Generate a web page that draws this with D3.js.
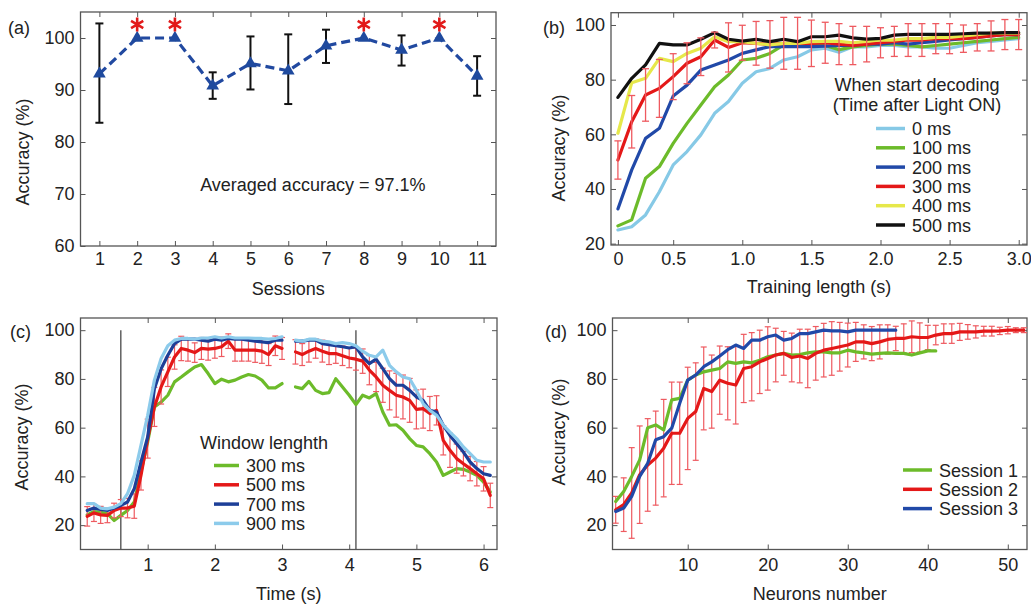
<!DOCTYPE html>
<html>
<head>
<meta charset="utf-8">
<script src="https://cdn.jsdelivr.net/npm/d3@7"></script>
<style>
  body { margin: 0; background: #fff; }
  svg { display: block; font-family: "Liberation Sans", Arial, sans-serif; }
  .tick line { stroke: #555; }
  .tick text { fill: #222; font-size: 18px; }
  .lbl { fill: #222; font-size: 18px; }
</style>
</head>
<body>
<svg id="fig" width="1031" height="604"></svg>
<script>
// (a) accuracy per session
const sessions = [1, 2, 3, 4, 5, 6, 7, 8, 9, 10, 11];
const accA = [93.1, 100, 100, 90.8, 95.1, 93.7, 98.5, 100, 97.7, 100, 92.7];
const upperA = [102.8, 100, 100, 93.4, 100.3, 100.7, 101.6, 100, 100.5, 100, 96.5];
const lowerA = [83.7, 100, 100, 88.3, 90.1, 87.3, 95.2, 100, 94.7, 100, 88.9];
const starSessions = [2, 3, 8, 10];
const starLevel = 102.6;

// (b) accuracy vs training length, one series per decoding start
const trainLen = [0.1, 0.2, 0.3, 0.4, 0.5, 0.6, 0.7, 0.8, 0.9, 1.0, 1.1, 1.2, 1.3, 1.4, 1.5,
  1.6, 1.7, 1.8, 1.9, 2.0, 2.1, 2.2, 2.3, 2.4, 2.5, 2.6, 2.7, 2.8, 2.9, 3.0];
const start0 = [25, 26.2, 30.5, 39, 48.8, 53.7, 59.8, 67.7, 72, 78.7, 82.9, 84.1, 87.2, 88.4, 90.9,
  91.5, 90, 92, 92, 92.5, 92.5, 92, 92, 91.5, 91.5, 92.5, 93.5, 94, 94.5, 95];
const start100 = [26.5, 28.7, 43.9, 48.2, 56.7, 64, 70.7, 77.4, 81.7, 87.2, 87.8, 89.6, 92.7, 92.7, 92.7,
  92.5, 91, 92, 92.5, 93, 93, 92.5, 92, 92.5, 93, 93.5, 94, 94.5, 95, 95.5];
const start200 = [32.7, 47, 58.5, 62.2, 74, 78, 83.5, 85.4, 87.2, 89.6, 90.9, 92.1, 92.1, 92.1, 92.1,
  92.3, 92.5, 92.5, 93, 93, 93.5, 93, 93.5, 94, 94.5, 95, 95.5, 96, 96.5, 96.5];
const start300 = [50.6, 64.6, 74.4, 76.8, 81.1, 86, 88.4, 94.5, 91.8, 93.5, 93.3, 92.9, 93.3, 93.3, 93.3,
  93.5, 93, 92.5, 93, 93.5, 94, 94.5, 94.5, 95, 95, 95, 95.5, 96, 96.5, 96.5];
const err300 = [7, 9.6, 9.6, 10.6, 8.4, 7.5, 6.9, 2.9, 9, 6.4, 8, 8.7, 9.5, 9.5, 8.5,
  7.5, 7.5, 7, 6.5, 5.5, 5.5, 6, 6, 5.5, 5.5, 5, 5, 5.5, 5.5, 5.5];
const start400 = [60.4, 78.9, 80.5, 87.8, 86.6, 89.6, 91.5, 95.7, 93.9, 93.9, 93.3, 92.7, 93.3, 93.3, 93.9,
  94, 94, 93.5, 94, 94.5, 94.5, 95, 95, 95.5, 95.5, 96, 96.5, 97, 97, 97];
const start500 = [73.5, 80.5, 85.4, 93.3, 92.7, 92.7, 94.8, 97.2, 94.8, 94.1, 94.8, 93.9, 94.8, 93.9, 95.7,
  95.7, 96.3, 95.3, 94.8, 95.1, 96.3, 96.6, 96.6, 96.6, 96.6, 96.8, 97, 97, 97.2, 97.2];
const startNames = ['0 ms', '100 ms', '200 ms', '300 ms', '400 ms', '500 ms'];
const startColors = ['#86c9e6', '#6cbb2a', '#2149a8', '#e41818', '#e6e84a', '#111111'];

// (c) accuracy vs time, one series per window length (no data 3.0-3.2 s)
const timeC = [0.1, 0.2, 0.3, 0.4, 0.5, 0.6, 0.7, 0.8, 0.9, 1.0, 1.1, 1.2, 1.3, 1.4, 1.5,
  1.6, 1.7, 1.8, 1.9, 2.0, 2.1, 2.2, 2.3, 2.4, 2.5, 2.6, 2.7, 2.8, 2.9, 3.0,
  3.2, 3.3, 3.4, 3.5, 3.6, 3.7, 3.8, 3.9, 4.0, 4.1, 4.2, 4.3, 4.4, 4.5, 4.6,
  4.7, 4.8, 4.9, 5.0, 5.1, 5.2, 5.3, 5.4, 5.5, 5.6, 5.7, 5.8, 5.9, 6.0, 6.1];
const win300 = [24.2, 25.6, 25.3, 24.7, 21.9, 24, 26, 29.5, 41.8, 54.1, 68.5, 70.5, 73.3, 78.8, 80.8,
  82.9, 84.9, 85.9, 82.2, 78.1, 79.9, 78.8, 79.5, 80.8, 81.8, 81.2, 79.5, 76.3, 76.3, 78.1,
  76.7, 76, 79, 75.3, 74, 74.4, 80.1, 76.7, 73.3, 69.5, 73.3, 72.2, 74, 66.4, 61,
  61.2, 58.9, 55.5, 52.7, 52.1, 49.3, 45.9, 40.4, 41.8, 43.2, 42.9, 41.8, 40.4, 37.7, 33.6];
const win500 = [23.6, 25, 24.2, 24, 26, 27, 27, 27.8, 40.4, 55.5, 68.5, 76.7, 82.9, 89, 92.5,
  91.8, 90.8, 92.5, 92.2, 92.5, 93.2, 95.5, 91.8, 91.8, 91.8, 91.8, 91.4, 90, 93.6, 92.5,
  91.1, 90, 91.4, 92.5, 91.4, 90.4, 90.4, 89.5, 88.6, 88.1, 87.3, 83.6, 80.8, 77.4, 75.3,
  73.3, 72.6, 71.2, 67.5, 67.8, 65.8, 67.1, 54.8, 50.7, 47.3, 45.2, 43.2, 41.1, 39, 32.2];
const err500 = [4, 3.5, 3.5, 3, 3, 3.5, 4, 5, 6, 8, 8, 7, 6, 5, 5,
  4.5, 4, 4.5, 4.5, 4, 4, 3, 4.5, 4.5, 4.5, 5, 5, 4.5, 4, 4.5,
  5, 4.5, 4.5, 4, 4.5, 4.5, 4, 4, 4, 4.5, 5, 6, 6, 7, 8,
  9, 9, 9, 8, 8, 7, 6, 6, 7, 6, 5, 5, 5, 5, 5];
const win700 = [26, 27, 26.4, 26, 27, 28.1, 29.5, 34.9, 45.9, 56.2, 76, 84.2, 89.7, 94.5, 96.3,
  96.3, 96.3, 95.9, 95.5, 96.3, 95.9, 96.6, 96.3, 96.3, 95.9, 95.5, 95.2, 94.9, 95.9, 95.9,
  95.5, 95.5, 95.9, 95.9, 94.5, 94.1, 93.6, 93.2, 92.7, 93.2, 89, 86.3, 88.1, 84.2, 80.1,
  77.4, 77.4, 75.3, 72.6, 71.2, 67.1, 66.4, 61, 56.8, 53.4, 50, 45.9, 43.2, 41.1, 40.4];
const win900 = [28.8, 28.8, 27, 26.7, 27.4, 28.8, 32.9, 40.4, 52.7, 65.1, 79.5, 88.4, 93.6, 95.9, 96.6,
  96.6, 96.3, 96.8, 96.8, 97.3, 96.8, 97.3, 96.8, 96.8, 96.8, 96.6, 96.6, 96.3, 96.6, 97.3,
  95.9, 95.5, 96.3, 96.3, 95.5, 95.2, 94.5, 94.9, 94.5, 93.6, 91.4, 89.7, 89, 91.8, 85.6,
  82.9, 80.8, 80.1, 75.3, 69.9, 67.1, 65.1, 61, 58.2, 55.5, 52.1, 49.3, 46.6, 45.9, 45.9];
const winNames = ['300 ms', '500 ms', '700 ms', '900 ms'];
const winColors = ['#6cbb2a', '#e41818', '#1d3f98', '#8ccbeb'];
const eventTimes = [0.6, 4.1];

// (d) accuracy vs number of neurons
const session1 = [29.7, 33.8, 40, 46.8, 60, 61.1, 59.1, 71.4, 72, 79.5, 81.6, 82.9, 83.6, 84.3, 87,
  86.4, 87, 86.6, 87.7, 89.1, 89.8, 90.5, 89.8, 90, 90.7, 91.1, 91.1, 90.7, 90.7, 91.8,
  91.1, 90.7, 90.2, 90.5, 90.7, 90.5, 90.5, 89.8, 90.7, 91.5, 91.5];
const session2 = [26.3, 28.4, 33.2, 40.7, 44.7, 47.5, 51.6, 57.7, 57.7, 63.8, 66.6, 76.1, 74.8, 79.5, 78.2,
  77.5, 84.3, 85, 87, 88.4, 89.8, 90.5, 88.8, 89.4, 88.4, 90.5, 91.8, 92.5, 93.2, 93.9,
  95.2, 95.2, 94.5, 95.2, 96.2, 96.6, 96.6, 97.3, 97, 97, 98, 98.6, 98.6, 99.3, 99.3,
  99.3, 99.6, 99.6, 99.7, 100, 100, 100];
const errSession2 = [5.5, 11, 18.6, 20, 19, 19.3, 20, 21, 21, 21, 20, 17, 15, 14, 15,
  16, 14, 14, 13, 13, 11, 9, 10, 11, 12, 11, 11, 11, 10, 9,
  8, 7, 7, 7, 6, 5, 6, 6.5, 6, 5, 4, 4, 4, 3.5, 3,
  2.5, 2, 2, 1.5, 1.5, 1, 1];
const session3 = [25.6, 27, 31.8, 40, 45.4, 55, 56.3, 59.8, 70, 79.5, 81.6, 85, 87, 89.4, 92,
  93.9, 92.5, 95.9, 95.9, 97.3, 98, 95.9, 96.6, 98.6, 98.6, 99.3, 100, 99.7, 99.7, 99.3,
  100, 100, 100, 100, 100, 100];
const sessionNames = ['Session 1', 'Session 2', 'Session 3'];
const sessionColors = ['#6cbb2a', '#e41818', '#2149a8'];

const errColor = '#ee5a60';
const svg = d3.select('#fig');

// MATLAB-like box with inward ticks on all four sides
function makePanel(box, xDomain, yDomain, opt) {
  const x = d3.scaleLinear().domain(xDomain).range([box.left, box.right]);
  const y = d3.scaleLinear().domain(yDomain).range([box.bottom, box.top]);
  const g = svg.append('g');
  const tk = 5;

  g.append('g')
    .attr('transform', `translate(0,${box.bottom})`)
    .call(d3.axisBottom(x).tickValues(opt.xTicks).tickFormat(opt.xFmt || d3.format('d'))
      .tickSizeInner(-tk).tickSizeOuter(0).tickPadding(opt.xPad))
    .call(a => a.select('.domain').remove());
  g.append('g')
    .attr('transform', `translate(0,${box.top})`)
    .call(d3.axisTop(x).tickValues(opt.xTicks).tickFormat('').tickSizeInner(-tk).tickSizeOuter(0))
    .call(a => a.select('.domain').remove());
  g.append('g')
    .attr('transform', `translate(${box.left},0)`)
    .call(d3.axisLeft(y).tickValues(opt.yTicks).tickFormat(d3.format('d'))
      .tickSizeInner(-tk).tickSizeOuter(0).tickPadding(6))
    .call(a => a.select('.domain').remove());
  g.append('g')
    .attr('transform', `translate(${box.right},0)`)
    .call(d3.axisRight(y).tickValues(opt.yTicks).tickFormat('').tickSizeInner(-tk).tickSizeOuter(0))
    .call(a => a.select('.domain').remove());

  g.append('rect')
    .attr('x', box.left).attr('y', box.top)
    .attr('width', box.right - box.left).attr('height', box.bottom - box.top)
    .attr('fill', 'none').attr('stroke', '#555').attr('stroke-width', 1.3);

  const plot = g.append('g');

  g.append('text').attr('class', 'lbl')
    .attr('x', (box.left + box.right) / 2).attr('y', opt.xLabelY)
    .attr('text-anchor', 'middle').text(opt.xLabel);
  g.append('text').attr('class', 'lbl')
    .attr('transform', `translate(${opt.yLabelX},${opt.yLabelMid}) rotate(-90)`)
    .attr('text-anchor', 'middle').text('Accuracy (%)');
  g.append('text').attr('class', 'lbl')
    .attr('x', opt.tagX).attr('y', opt.tagY).text(opt.tag);

  return { x, y, plot };
}

function errorBars(plot, x, y, xs, ys, es, color, cap, width) {
  const eg = plot.append('g').attr('stroke', color).attr('stroke-width', width).attr('fill', 'none');
  xs.forEach((xv, i) => {
    if (es[i] == null) return;
    const cx = x(xv), lo = y(ys[i] - es[i]), hi = y(ys[i] + es[i]);
    eg.append('line').attr('x1', cx).attr('x2', cx).attr('y1', lo).attr('y2', hi);
    eg.append('line').attr('x1', cx - cap).attr('x2', cx + cap).attr('y1', lo).attr('y2', lo);
    eg.append('line').attr('x1', cx - cap).attr('x2', cx + cap).attr('y1', hi).attr('y2', hi);
  });
}

function drawLine(plot, x, y, xs, ys, color, width, gapAt) {
  const pts = xs.map((xv, i) => [xv, ys[i]]);
  const line = d3.line().x(d => x(d[0])).y(d => y(d[1]));
  // split at the gap so the line breaks
  const segs = gapAt == null ? [pts] :
    [pts.filter(d => d[0] <= gapAt[0]), pts.filter(d => d[0] >= gapAt[1])];
  segs.forEach(s => plot.append('path').attr('d', line(s))
    .attr('fill', 'none').attr('stroke', color).attr('stroke-width', width)
    .attr('stroke-linejoin', 'round').attr('stroke-linecap', 'round'));
}

function legend(g, x0, y0, step, names, colors, len) {
  names.forEach((n, i) => {
    const yy = y0 + i * step;
    g.append('line').attr('x1', x0).attr('x2', x0 + len).attr('y1', yy).attr('y2', yy)
      .attr('stroke', colors[i]).attr('stroke-width', 3.5);
    g.append('text').attr('class', 'lbl').attr('x', x0 + len + 7).attr('y', yy + 6.5).text(n);
  });
}

// ---------- (a) ----------
{
  const p = makePanel({ left: 80.5, right: 496, top: 12, bottom: 246 }, [0.5, 11.5], [60, 105], {
    xTicks: sessions, yTicks: [60, 70, 80, 90, 100], xPad: 6,
    xLabel: 'Sessions', xLabelY: 295, yLabelX: 29, yLabelMid: 152, tag: '(a)', tagX: 8, tagY: 34
  });
  const { x, y, plot } = p;
  const eg = plot.append('g').attr('stroke', '#111').attr('stroke-width', 2);
  sessions.forEach((s, i) => {
    if (!(upperA[i] > lowerA[i])) return;
    const cx = x(s);
    eg.append('line').attr('x1', cx).attr('x2', cx).attr('y1', y(lowerA[i])).attr('y2', y(upperA[i]));
    [lowerA[i], upperA[i]].forEach(v => eg.append('line')
      .attr('x1', cx - 4).attr('x2', cx + 4).attr('y1', y(v)).attr('y2', y(v)));
  });
  plot.append('path')
    .attr('d', d3.line().x((d, i) => x(sessions[i])).y(d => y(d))(accA))
    .attr('fill', 'none').attr('stroke', '#2149a0').attr('stroke-width', 3.2)
    .attr('stroke-dasharray', '9,5');
  plot.selectAll('.tri').data(accA).join('path')
    .attr('transform', (d, i) => `translate(${x(sessions[i])},${y(d)})`)
    .attr('d', d3.symbol(d3.symbolTriangle, 70)())
    .attr('fill', '#1f4a9e');
  plot.selectAll('.star').data(starSessions).join('path')
    .attr('transform', d => `translate(${x(d)},${y(starLevel)})`)
    .attr('d', d3.symbol(d3.symbolAsterisk, 140)())
    .attr('fill', 'none').attr('stroke', '#e21a1a').attr('stroke-width', 2.6);
  plot.append('text').attr('class', 'lbl')
    .attr('x', x(6.65)).attr('y', y(70.6)).attr('text-anchor', 'middle')
    .text('Averaged accuracy = 97.1%');
}

// ---------- (b) ----------
{
  const p = makePanel({ left: 611, right: 1027, top: 12.7, bottom: 245 }, [0.05, 3.06], [19.5, 104.5], {
    xTicks: [0.1, 0.5, 1.0, 1.5, 2.0, 2.5, 3.0], yTicks: [20, 40, 60, 80, 100], xPad: 7,
    xFmt: d => d < 0.2 ? '0' : d3.format('.1f')(d),
    xLabel: 'Training length (s)', xLabelY: 293, yLabelX: 565, yLabelMid: 148,
    tag: '(b)', tagX: 543, tagY: 34
  });
  const { x, y, plot } = p;
  const series = [start0, start100, start200, start300, start400, start500];
  series.forEach((s, k) => drawLine(plot, x, y, trainLen, s, startColors[k], 3.2));
  errorBars(plot, x, y, trainLen, start300, err300, errColor, 3.5, 1.3);
  const lg = svg.append('g');
  lg.append('text').attr('class', 'lbl').attr('x', 917).attr('y', 91).attr('text-anchor', 'middle')
    .text('When start decoding');
  lg.append('text').attr('class', 'lbl').attr('x', 917).attr('y', 111).attr('text-anchor', 'middle')
    .text('(Time after Light ON)');
  legend(lg, 876, 128.5, 19.3, startNames, startColors, 29);
}

// ---------- (c) ----------
{
  const p = makePanel({ left: 80.5, right: 497, top: 318, bottom: 549.5 }, [0, 6.2], [10, 105], {
    xTicks: [1, 2, 3, 4, 5, 6], yTicks: [20, 40, 60, 80, 100], xPad: 9,
    xLabel: 'Time (s)', xLabelY: 600, yLabelX: 28, yLabelMid: 437,
    tag: '(c)', tagX: 10, tagY: 338
  });
  const { x, y, plot } = p;
  eventTimes.forEach(t => plot.append('line')
    .attr('x1', x(t)).attr('x2', x(t)).attr('y1', y(100)).attr('y2', y(10))
    .attr('stroke', '#555').attr('stroke-width', 1.4));
  const gap = [3.05, 3.15];
  drawLine(plot, x, y, timeC, win300, winColors[0], 3.2, gap);
  errorBars(plot, x, y, timeC, win500, err500, errColor, 3, 1.2);
  drawLine(plot, x, y, timeC, win500, winColors[1], 3.2, gap);
  drawLine(plot, x, y, timeC, win700, winColors[2], 3.2, gap);
  drawLine(plot, x, y, timeC, win900, winColors[3], 3.2, gap);
  const lg = svg.append('g');
  lg.append('text').attr('class', 'lbl').attr('x', 200).attr('y', 449).text('Window lenghth');
  legend(lg, 214, 465.5, 19.3, winNames, winColors, 25);
}

// ---------- (d) ----------
{
  const p = makePanel({ left: 612.5, right: 1027, top: 318, bottom: 549.5 }, [0.6, 52.4], [10, 105], {
    xTicks: [10, 20, 30, 40, 50], yTicks: [20, 40, 60, 80, 100], xPad: 9,
    xLabel: 'Neurons number', xLabelY: 600, yLabelX: 565, yLabelMid: 432,
    tag: '(d)', tagX: 545, tagY: 338
  });
  const { x, y, plot } = p;
  const n1 = session1.map((d, i) => i + 1);
  const n2 = session2.map((d, i) => i + 1);
  const n3 = session3.map((d, i) => i + 1);
  errorBars(plot, x, y, n2, session2, errSession2, errColor, 3, 1.2);
  drawLine(plot, x, y, n1, session1, sessionColors[0], 3.2);
  drawLine(plot, x, y, n2, session2, sessionColors[1], 3.2);
  drawLine(plot, x, y, n3, session3, sessionColors[2], 3.2);
  const lg = svg.append('g');
  legend(lg, 903, 470, 19.3, sessionNames, sessionColors, 29);
}
</script>
</body>
</html>
